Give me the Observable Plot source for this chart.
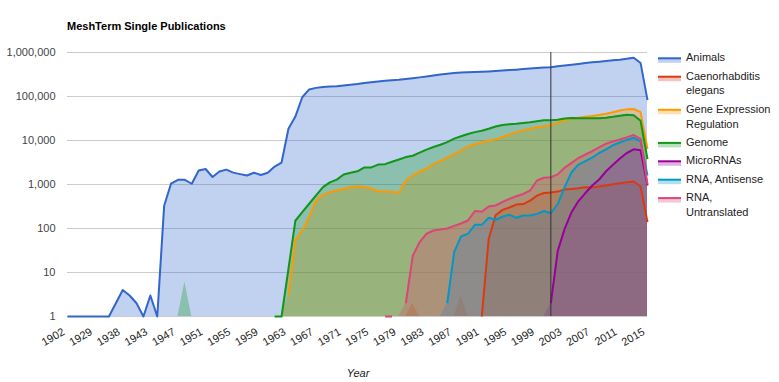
<!DOCTYPE html>
<html><head><meta charset="utf-8">
<script src="https://cdn.jsdelivr.net/npm/d3@7"></script>
<script src="https://cdn.jsdelivr.net/npm/@observablehq/plot@0.6"></script>
<style>
body{margin:0;background:#fff;}
#chart{width:779px;height:382px;}
</style></head><body><div id="chart"></div>
<script>
const _ = null;
const chartTitle = "MeshTerm Single Publications";
const xTitle = "Year";
const years = [1902,1908,1915,1921,1929,1931,1934,1936,1938,1939,1940,1941,
  1943,1944,1945,1946,1947,1948,1949,1950,1951,1952,1953,1954,1955,1956,1957,1958,1959,1960,
  1961,1962,1963,1964,1965,1966,1967,1968,1969,1970,1971,1972,1973,1974,1975,1976,1977,1978,
  1979,1980,1981,1982,1983,1984,1985,1986,1987,1988,1989,1990,1991,1992,1993,1994,1995,1996,
  1997,1998,1999,2000,2001,2002,2003,2004,2005,2006,2007,2008,2009,2010,2011,2012,2013,2014,2015];
const labelYears = [1902,1929,1938,1943,1947,1951,1955,1959,1963,1967,1971,1975,1979,1983,1987,1991,1995,1999,2003,2007,2011,2015];
const yTicks = [1,10,100,1000,10000,100000,1000000];
const markerYear = 2001;
const seriesNames = ["Animals","Caenorhabditis elegans","Gene Expression Regulation","Genome","MicroRNAs","RNA, Antisense","RNA, Untranslated"];
const legendLines = [["Animals"],["Caenorhabditis","elegans"],["Gene Expression","Regulation"],["Genome"],["MicroRNAs"],["RNA, Antisense"],["RNA,","Untranslated"]];
const seriesColors = ["#3366cc","#dc3912","#ff9900","#109618","#990099","#0099c6","#dd4477"];

const animals = [1,1,1,1,1,1,1,2,4,3,
  2,1,3,1,330,1050,1280,1280,1040,2080,
  2250,1480,1980,2180,1860,1720,1600,1850,1650,1850,
  2550,3150,18500,35000,96000,145000,157000,165000,168000,170000,
  178000,185000,193000,203000,212000,220000,227000,233000,240000,250000,
  260000,272000,285000,300000,315000,328000,340000,350000,355000,360000,
  365000,370000,378000,388000,398000,408000,420000,432000,445000,455000,
  465000,485000,505000,525000,550000,575000,600000,620000,640000,665000,
  685000,720000,760000,575000,83000];
const elegans = [_,_,_,_,_,_,_,_,_,_,
  _,_,_,_,_,_,_,_,_,_,
  _,_,_,_,_,_,_,_,_,_,
  _,_,_,_,_,_,_,_,_,_,
  _,_,_,_,_,_,_,_,_,0,
  2,0,_,_,_,_,0,3,0,_,
  1,58,200,265,300,350,360,430,560,640,
  660,690,770,790,820,870,860,900,950,1010,
  1070,1120,1170,900,140];
const geneExpression = [_,_,_,_,_,_,_,_,_,_,
  _,_,_,_,_,_,_,_,_,_,
  _,_,_,_,_,_,_,_,_,_,
  _,0,3,55,90,180,435,580,670,730,
  790,870,915,870,810,700,690,680,650,1230,
  1600,1950,2300,2900,3400,4100,4900,6000,7300,8200,
  9100,10000,10600,12000,13800,15500,17000,18500,20000,21000,
  22500,25500,29000,31500,33000,34500,36000,38000,40500,44000,
  48000,51000,52000,44000,6400];
const genome = [_,_,_,_,_,_,_,_,_,_,
  _,_,_,_,_,_,0,6,0,_,
  _,_,_,_,_,_,_,_,_,_,
  1,1,12,150,235,365,565,870,1120,1290,
  1690,1850,2000,2450,2450,2840,2900,3300,3700,4200,
  4500,5300,6200,7100,8000,9200,11000,12500,14000,15500,
  16600,18500,20800,22500,23300,24000,25000,25900,27500,29000,
  29000,29500,31500,32500,32000,32000,32000,32000,33000,34500,
  36700,38600,37500,28000,3800];
const microRNAs = [_,_,_,_,_,_,_,_,_,_,
  _,_,_,_,_,_,_,_,_,_,
  _,_,_,_,_,_,_,_,_,_,
  _,_,_,_,_,_,_,_,_,_,
  _,_,_,_,_,_,_,_,_,_,
  _,_,_,_,_,_,_,_,_,_,
  _,_,_,_,_,_,_,_,_,0,
  2,31,98,235,420,640,950,1300,2000,2800,
  3900,5200,6300,6000,950];
const rnaAntisense = [_,_,_,_,_,_,_,_,_,_,
  _,_,_,_,_,_,_,_,_,_,
  _,_,_,_,_,_,_,_,_,_,
  _,_,_,_,_,_,_,_,_,_,
  _,_,_,_,_,_,_,_,_,_,
  _,_,_,_,0,2,29,66,76,121,
  121,175,158,185,207,175,197,197,215,250,
  222,360,870,1900,2840,3400,4100,5200,6300,7800,
  9000,10300,11500,9600,1600];
const rnaUntranslated = [_,_,_,_,_,_,_,_,_,_,
  _,_,_,_,_,_,_,_,_,_,
  _,_,_,_,_,_,_,_,_,_,
  _,_,_,_,_,_,_,_,_,_,
  _,_,_,_,_,_,1,1,0,2,
  24,49,76,90,95,100,115,130,152,250,
  240,315,333,400,470,540,610,730,1230,1420,
  1460,1700,2400,3100,4000,4800,5700,7000,8500,9500,
  10500,11800,13300,10900,1000];

const seriesValues = [animals, elegans, geneExpression, genome, microRNAs, rnaAntisense, rnaUntranslated];
const rows = seriesNames.flatMap((name, s) => years.map((year, i) => ({name, year, value: seriesValues[s][i]})));
const fmt = d3.format(",");
const FONT = "Arial, 'Liberation Sans', sans-serif";

const svgEl = Plot.plot({
  width: 779, height: 382,
  marginLeft: 67, marginRight: 132, marginTop: 52, marginBottom: 66,
  style: {fontFamily: FONT, fontSize: "11px", background: "#fff", overflow: "visible"},
  x: {type: "point", domain: years, padding: 0, round: false, axis: null},
  y: {type: "log", domain: [1, 1e6], axis: null},
  color: {domain: seriesNames, range: seriesColors},
  marks: [
    Plot.ruleY(yTicks, {stroke: "#cccccc", strokeWidth: 1}),
    Plot.areaY(rows, {x: "year", y1: () => 1, y2: d => d.value == null ? null : Math.max(1, d.value), z: "name", fill: "name", fillOpacity: 0.3}),
    Plot.lineY(rows, {x: "year", y: d => d.value > 0 ? d.value : null, z: "name", stroke: "name", strokeWidth: 2, strokeLinecap: "butt", strokeLinejoin: "round"}),
    Plot.ruleX([markerYear], {stroke: "#333", strokeWidth: 1}),
    Plot.text(yTicks, {y: d => d, frameAnchor: "left", dx: -12, textAnchor: "end", text: d => fmt(d), fill: "#444", fontSize: 11}),
    Plot.text(labelYears, {x: d => d, frameAnchor: "bottom", dx: -2, dy: 17.5, rotate: -30, textAnchor: "end", lineAnchor: "bottom", text: d => String(d), fill: "#222", fontSize: 11})
  ]
});
document.getElementById("chart").appendChild(svgEl);

const svg = d3.select(svgEl);
svg.append("text").attr("x", 67).attr("y", 30).attr("text-anchor", "start").attr("font-family", FONT).attr("font-size", 11)
  .attr("font-weight", "bold").attr("fill", "#000").text(chartTitle);
svg.append("text").attr("x", 358).attr("y", 377).attr("text-anchor", "middle").attr("font-family", FONT)
  .attr("font-size", 11).attr("font-style", "italic").attr("fill", "#222").text(xTitle);

// legend
const lg = svg.append("g").attr("font-family", FONT).attr("font-size", 11).attr("fill", "#222").attr("text-anchor", "start");
let base = 61.3;
legendLines.forEach((lines, s) => {
  const c = seriesColors[s];
  const ly = base - 3;
  lg.append("rect").attr("x", 658).attr("y", ly).attr("width", 23).attr("height", 4.5)
    .attr("fill", c).attr("fill-opacity", 0.3);
  lg.append("line").attr("x1", 658).attr("x2", 681).attr("y1", ly).attr("y2", ly)
    .attr("stroke", c).attr("stroke-width", 2);
  lines.forEach((t, j) => {
    lg.append("text").attr("x", 686).attr("y", base + j * 14.7).attr("text-anchor", "start").text(t);
  });
  base += 18.4 + (lines.length - 1) * 14.7;
});
</script></body></html>
